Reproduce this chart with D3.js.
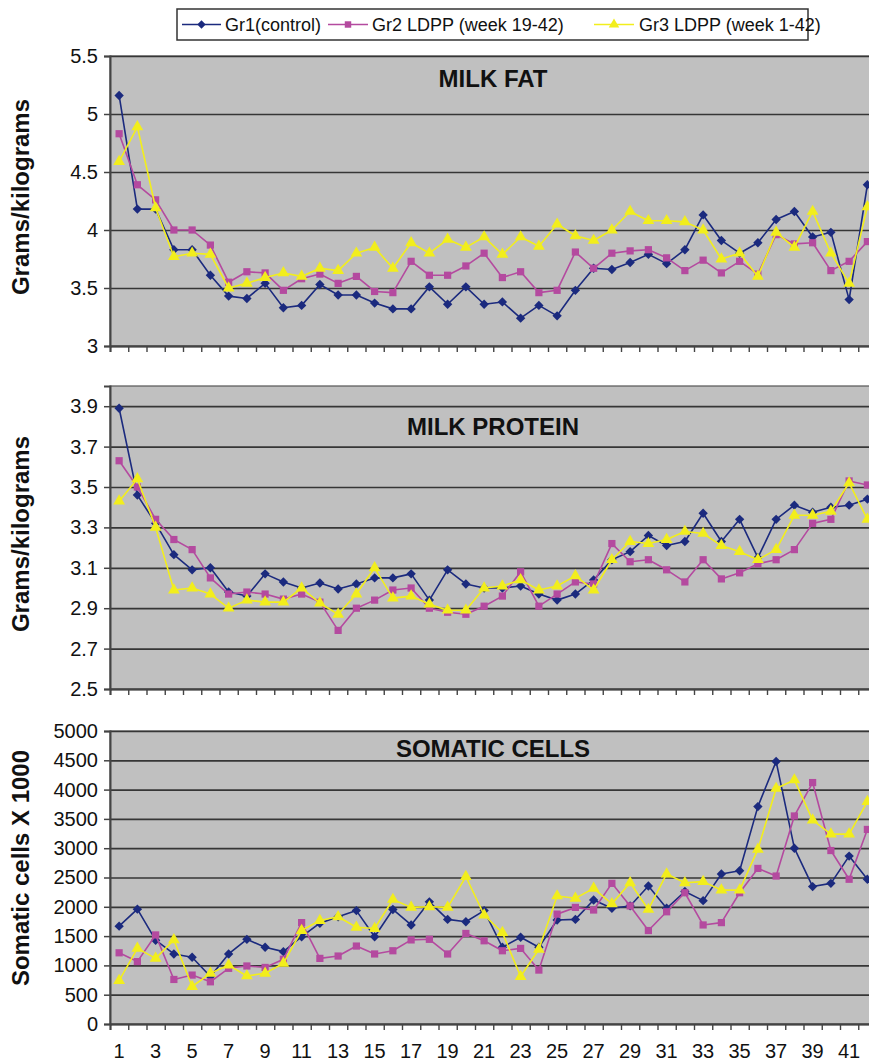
<!DOCTYPE html>
<html>
<head>
<meta charset="utf-8">
<script src="https://cdn.jsdelivr.net/npm/d3@7"></script>
<style>
  html, body { margin: 0; padding: 0; background: #fff; }
  svg { display: block; }
  text { font-family: "Liberation Sans", Arial, Helvetica, sans-serif; fill: #111; }
</style>
</head>
<body>
<svg id="chart" width="869" height="1061"></svg>
<script>
// ---------------- DATA ----------------
const weeks = d3.range(1, 43);
const seriesNames = ["Gr1(control)", "Gr2 LDPP (week 19-42)", "Gr3 LDPP (week 1-42)"];

const fatGr1 = [5.16,4.18,4.18,3.83,3.83,3.61,3.43,3.41,3.54,3.33,3.35,3.53,3.44,3.44,3.37,3.32,3.32,3.51,3.36,3.51,3.36,3.38,3.24,3.35,3.26,3.48,3.67,3.66,3.72,3.79,3.71,3.83,4.13,3.91,3.80,3.89,4.09,4.16,3.94,3.98,3.40,4.39];
const fatGr2 = [4.83,4.39,4.26,4.00,4.00,3.87,3.55,3.64,3.63,3.48,3.58,3.62,3.54,3.60,3.47,3.46,3.73,3.61,3.61,3.69,3.80,3.59,3.64,3.46,3.48,3.81,3.67,3.80,3.82,3.83,3.76,3.65,3.74,3.63,3.73,3.62,3.96,3.88,3.89,3.65,3.73,3.90];
const fatGr3 = [4.59,4.89,4.19,3.77,3.80,3.79,3.50,3.54,3.59,3.63,3.60,3.67,3.65,3.80,3.85,3.67,3.89,3.80,3.92,3.85,3.94,3.79,3.94,3.86,4.05,3.95,3.91,4.00,4.16,4.08,4.08,4.07,4.00,3.75,3.80,3.60,3.98,3.85,4.16,3.80,3.54,4.20];

const protGr1 = [3.89,3.46,3.32,3.165,3.09,3.10,2.98,2.96,3.07,3.03,3.00,3.025,2.995,3.02,3.05,3.05,3.07,2.94,3.09,3.02,3.00,3.00,3.01,2.97,2.94,2.97,3.04,3.14,3.18,3.26,3.21,3.23,3.37,3.23,3.34,3.15,3.34,3.41,3.375,3.40,3.41,3.44];
const protGr2 = [3.63,3.50,3.34,3.24,3.19,3.05,2.97,2.98,2.97,2.945,2.97,2.93,2.79,2.90,2.94,2.99,3.00,2.90,2.88,2.87,2.91,2.96,3.08,2.91,2.97,3.03,3.02,3.22,3.13,3.14,3.09,3.03,3.14,3.045,3.075,3.12,3.14,3.19,3.32,3.34,3.53,3.51];
const protGr3 = [3.43,3.54,3.30,2.99,3.00,2.97,2.90,2.94,2.93,2.93,3.00,2.925,2.87,2.97,3.10,2.95,2.96,2.92,2.89,2.89,3.00,3.01,3.04,2.99,3.01,3.06,2.99,3.14,3.23,3.22,3.24,3.28,3.27,3.21,3.18,3.14,3.19,3.36,3.36,3.38,3.52,3.34];

const somGr1 = [1670,1960,1430,1195,1140,810,1195,1445,1310,1235,1490,1720,1830,1935,1490,1955,1690,2085,1785,1745,1935,1310,1480,1310,1775,1785,2115,1975,2015,2355,1975,2260,2105,2560,2615,3710,4480,3000,2345,2400,2865,2470];
const somGr2 = [1215,1065,1520,760,835,720,950,990,965,1105,1730,1120,1160,1330,1195,1250,1435,1445,1195,1545,1420,1250,1290,920,1875,1990,1945,2400,2015,1595,1915,2240,1690,1730,2240,2655,2525,3550,4120,2960,2470,3320];
const somGr3 = [740,1290,1120,1435,640,865,1005,820,865,1035,1595,1765,1830,1650,1630,2125,1990,2000,1990,2515,1860,1560,810,1275,2185,2145,2315,2050,2410,1955,2560,2410,2430,2285,2285,2980,4020,4165,3480,3240,3240,3795];

const fatTicks  = [3, 3.5, 4, 4.5, 5, 5.5];
const protTicks = [2.5, 2.7, 2.9, 3.1, 3.3, 3.5, 3.7, 3.9];
const somTicks  = [0, 500, 1000, 1500, 2000, 2500, 3000, 3500, 4000, 4500, 5000];
const xTickLabels = weeks.filter(w => w % 2 === 1);

const panelTitles = ["MILK FAT", "MILK PROTEIN", "SOMATIC CELLS"];
const yTitles = ["Grams/kilograms", "Grams/kilograms", "Somatic cells X 1000"];

// ---------------- STYLE / LAYOUT ----------------
const colors = ["#1b2a7e", "#b44a9f", "#f2ee1c"];
const squareDiamond = {
  draw(ctx, size) {
    const r = Math.sqrt(size / 2);
    ctx.moveTo(0, -r); ctx.lineTo(r, 0); ctx.lineTo(0, r); ctx.lineTo(-r, 0); ctx.closePath();
  }
};
const symbols = [squareDiamond, d3.symbolSquare, d3.symbolTriangle];
const symSizes = [44, 52, 60];

const plotLeft = 110;
const bandW = 18.25;
const plotRight = plotLeft + bandW * weeks.length;

const x = d3.scaleBand().domain(weeks).range([plotLeft, plotRight]).paddingInner(0).paddingOuter(0);
const xb = d3.scaleLinear().domain([0, weeks.length]).range([plotLeft, plotRight]);
const cx = w => x(w) + x.bandwidth() / 2;

const panels = [
  { top: 56,  bottom: 346,  domain: [3, 5.5],  ticks: fatTicks,  fmt: d => String(d), data: [fatGr1, fatGr2, fatGr3], titleY: 87, yTitleY: 197, showX: false },
  { top: 386, bottom: 689,  domain: [2.5, 4.0], ticks: protTicks, fmt: d => d.toFixed(1), data: [protGr1, protGr2, protGr3], titleY: 435, yTitleY: 534, showX: false },
  { top: 731, bottom: 1024, domain: [0, 5000], ticks: somTicks,  fmt: d => String(d), data: [somGr1, somGr2, somGr3], titleY: 757, yTitleY: 868, showX: true }
];

const svg = d3.select("#chart");

panels.forEach((p, pi) => {
  const y = d3.scaleLinear().domain(p.domain).range([p.bottom, p.top]);
  const g = svg.append("g");

  // plot area
  g.append("rect")
    .attr("x", plotLeft).attr("y", p.top)
    .attr("width", plotRight - plotLeft).attr("height", p.bottom - p.top)
    .attr("fill", "#c0c0c0").attr("stroke", "#555").attr("stroke-width", 1.2);

  // gridlines
  const grid = g.append("g").attr("transform", `translate(${plotLeft},0)`)
    .call(d3.axisLeft(y).tickValues(p.ticks).tickSize(-(plotRight - plotLeft)).tickFormat(""));
  grid.select(".domain").remove();
  grid.selectAll(".tick line").attr("stroke", "#363636").attr("stroke-width", 1.7);

  // y axis
  const yAx = g.append("g").attr("transform", `translate(${plotLeft},0)`)
    .call(d3.axisLeft(y).tickValues(p.ticks).tickSize(6).tickPadding(6).tickFormat(p.fmt));
  yAx.select(".domain").attr("stroke", "#444").attr("stroke-width", 2);
  yAx.selectAll(".tick line").attr("stroke", "#444").attr("stroke-width", 1.5);
  yAx.selectAll(".tick text").attr("font-size", 20).attr("fill", "#222")
    .style("font-family", '"Liberation Sans", Arial, sans-serif');

  // x axis (ticks between categories)
  const xAx = g.append("g").attr("transform", `translate(0,${p.bottom})`)
    .call(d3.axisBottom(xb).tickValues(d3.range(0, weeks.length + 1)).tickSize(6).tickFormat(""));
  xAx.select(".domain").attr("stroke", "#444").attr("stroke-width", 2);
  xAx.selectAll(".tick line").attr("stroke", "#444").attr("stroke-width", 1.4);

  if (p.showX) {
    g.selectAll(".xlab").data(xTickLabels).enter().append("text")
      .attr("x", d => cx(d)).attr("y", p.bottom + 34)
      .attr("text-anchor", "middle").attr("font-size", 20).attr("fill", "#222")
      .text(d => d);
  }

  // panel title
  g.append("text").attr("x", 493).attr("y", p.titleY).attr("text-anchor", "middle")
    .attr("font-size", 24).attr("font-weight", "bold").attr("fill", "#111")
    .text(panelTitles[pi]);

  // y title
  g.append("text")
    .attr("transform", `translate(29,${p.yTitleY}) rotate(-90)`)
    .attr("text-anchor", "middle").attr("font-size", 24).attr("font-weight", "bold").attr("fill", "#111")
    .text(yTitles[pi]);

  // series
  p.data.forEach((vals, si) => {
    const line = d3.line().x((d, i) => cx(weeks[i])).y(d => y(d));
    g.append("path").datum(vals)
      .attr("d", line).attr("fill", "none")
      .attr("stroke", colors[si]).attr("stroke-width", 1.6).attr("stroke-linejoin", "round");
    g.selectAll(".m" + si).data(vals).enter().append("path")
      .attr("transform", (d, i) => `translate(${cx(weeks[i])},${y(d)})`)
      .attr("d", d3.symbol().type(symbols[si]).size(symSizes[si]))
      .attr("fill", colors[si]);
  });
});

// ---------------- LEGEND ----------------
const leg = svg.append("g");
leg.append("rect").attr("x", 177).attr("y", 9).attr("width", 631).attr("height", 31)
  .attr("fill", "#fff").attr("stroke", "#333").attr("stroke-width", 1.5);
const legItems = [
  { x0: 182, x1: 221, tx: 225 },
  { x0: 328, x1: 368, tx: 372 },
  { x0: 594, x1: 634, tx: 639 }
];
legItems.forEach((it, i) => {
  leg.append("line").attr("x1", it.x0).attr("x2", it.x1).attr("y1", 24.5).attr("y2", 24.5)
    .attr("stroke", colors[i]).attr("stroke-width", 1.7);
  leg.append("path").attr("transform", `translate(${(it.x0 + it.x1) / 2},24.5)`)
    .attr("d", d3.symbol().type(symbols[i]).size(symSizes[i] * 0.8)).attr("fill", colors[i]);
  leg.append("text").attr("x", it.tx).attr("y", 31).attr("font-size", 18).attr("fill", "#222")
    .text(seriesNames[i]);
});
</script>
</body>
</html>
